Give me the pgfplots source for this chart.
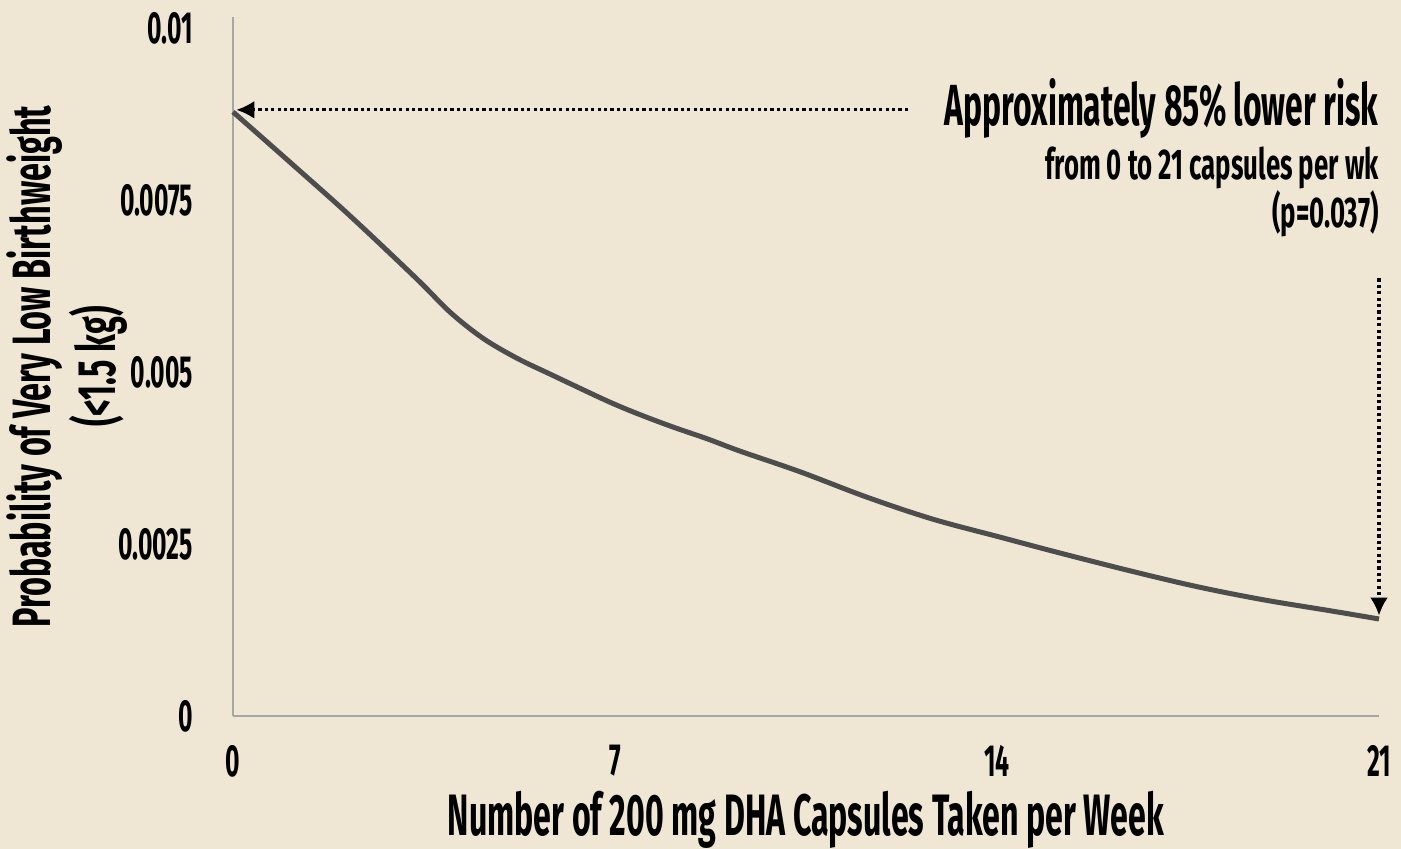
\documentclass[border=0pt]{standalone}
\usepackage{pgfplots}
\pgfplotsset{compat=1.18}
\usetikzlibrary{arrows.meta}
\usepackage{fontspec}
\setmainfont{Fira Sans}[FakeStretch=0.6]
\newfontfamily\narrowfont{Fira Sans}[FakeStretch=0.55]
\definecolor{bgcol}{RGB}{240,230,212}
\definecolor{axcol}{RGB}{166,166,166}
\definecolor{curvecol}{RGB}{77,77,77}
\begin{document}
\begin{tikzpicture}
\useasboundingbox (0,0) rectangle (700.5pt,424.5pt);
\fill[bgcol] (0,0) rectangle (700.5pt,424.5pt);
\begin{axis}[
  at={(116.5pt,66.5pt)}, anchor=south west,
  scale only axis, width=573pt, height=349.5pt,
  xmin=0, xmax=21, ymin=0, ymax=0.01016,
  axis lines=left,
  axis line style={-, axcol, line width=1pt},
  xtick={0,7,14,21},
  ytick={0,0.0025,0.005,0.0075,0.01},
  yticklabels={0,0.0025,0.005,0.0075,0.01},
  scaled y ticks=false,
  major tick length=0pt,
  /pgf/number format/assume math mode=true,
  ticklabel style={font=\narrowfont\bfseries\fontsize{22.5}{24}\selectfont, text=black},
  yticklabel style={xshift=-16.5pt},
  xticklabel style={yshift=-11pt},
  clip=false,
  xlabel={Number of 200 mg DHA Capsules Taken per Week},
  xlabel style={font=\narrowfont\bfseries\fontsize{29.2}{34}\selectfont, at={(axis description cs:0.5,0)}, anchor=center, yshift=-52pt},
  ylabel={Probability of Very Low Birthweight\\(<1.5 kg)},
  ylabel style={font=\bfseries\fontsize{27}{32.5}\selectfont, align=center, at={(axis description cs:0,0.5)}, anchor=center, yshift=83pt},
]
\addplot[curvecol, line width=2.5pt, line join=round, smooth, tension=0.55] coordinates {
(0,0.00878)(1.1,0.00801)(2.144,0.00727)(3.372,0.00635)(3.977,0.00587)(4.581,0.00549)(5.204,0.00520)(5.809,0.00497)(6.854,0.00458)(7.458,0.00438)(8.063,0.00420)(8.686,0.00403)(9.291,0.00385)(10.39,0.00355)(11.618,0.00318)(12.828,0.00286)(14.055,0.00260)(15.10,0.00238)(16.438,0.00211)(17.665,0.00188)(18.875,0.00169)(20.103,0.00153)(21,0.00141)
};
\draw[black, line width=1.6pt, dash pattern=on 1.6pt off 1.6pt, -{Latex[length=9pt,width=9pt]}] (axis cs:12.37,0.00881) -- (axis cs:0.06,0.00881);
\draw[black, line width=1.6pt, dash pattern=on 1.6pt off 1.6pt, -{Latex[length=9pt,width=9pt]}] (axis cs:21,0.00636) -- (axis cs:21,0.00146);
\node[anchor=base east, inner sep=0pt, font=\bfseries\fontsize{29}{31}\selectfont] at (axis cs:21,0.008576) {\narrowfont Approximately 85\% lower risk};
\node[anchor=base east, inner sep=0pt, font=\bfseries\fontsize{21.5}{23}\selectfont] at (axis cs:21,0.007805) {from 0 to 21 capsules per wk};
\node[anchor=base east, inner sep=0pt, font=\bfseries\fontsize{21.5}{23}\selectfont] at (axis cs:21,0.007093) {(p=0.037)};
\end{axis}
\end{tikzpicture}
\end{document}
